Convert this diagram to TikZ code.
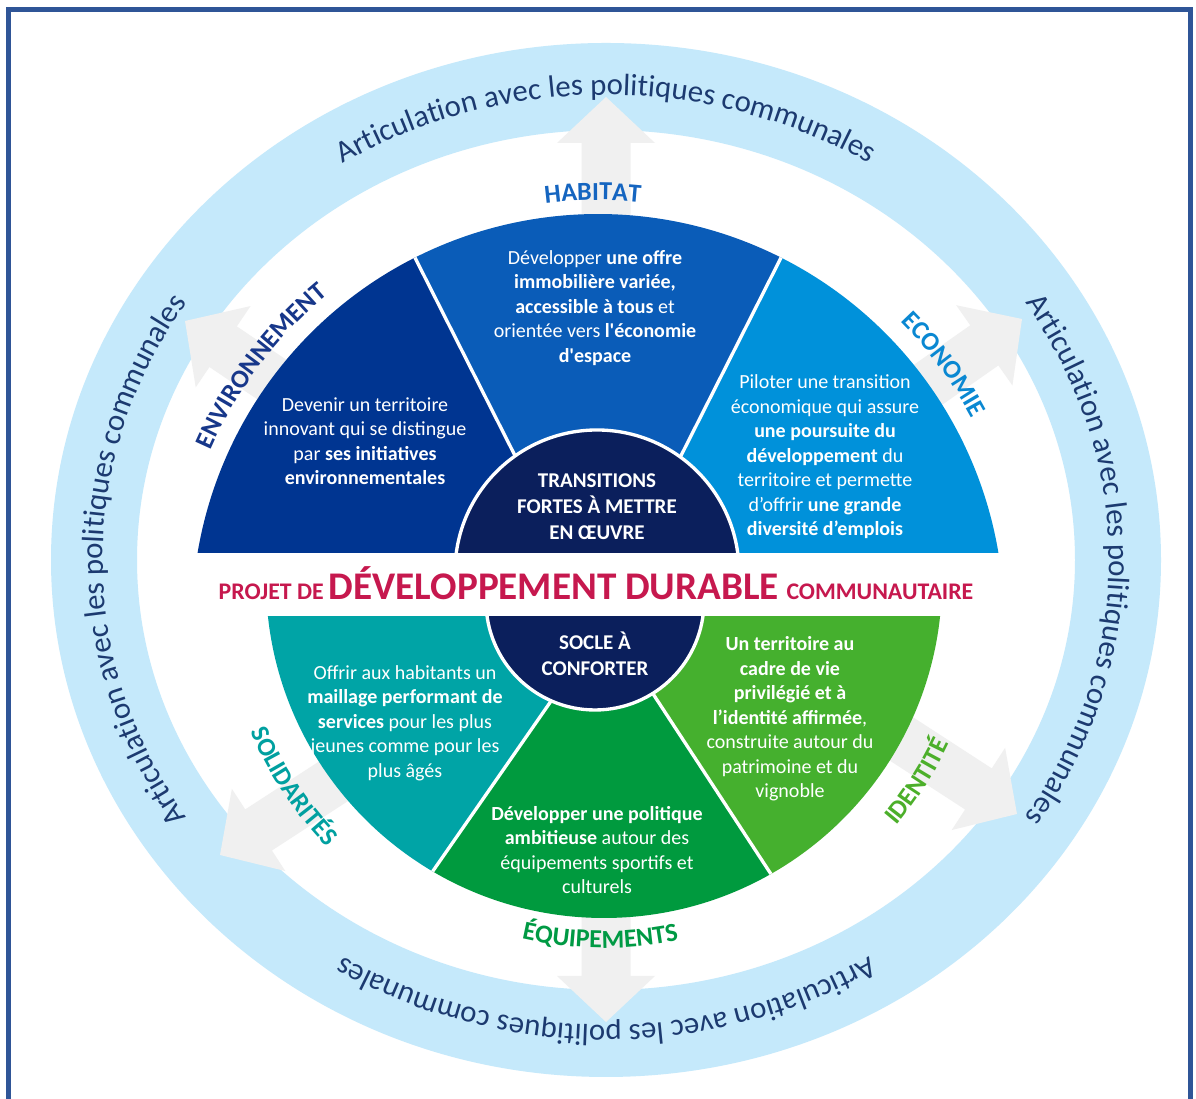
\documentclass[tikz,border=0pt]{standalone}
\usepackage{fontspec}
\setmainfont{Carlito}
\usetikzlibrary{decorations.text}
\definecolor{frameblue}{HTML}{2F5597}
\definecolor{ringblue}{HTML}{C5E9FB}
\definecolor{ringtext}{HTML}{1C3A70}
\definecolor{arrowgray}{HTML}{F0F0F0}
\definecolor{envblue}{HTML}{003591}
\definecolor{habblue}{HTML}{0A5CB8}
\definecolor{ecoblue}{HTML}{0091DA}
\definecolor{navy}{HTML}{0B1F5C}
\definecolor{solteal}{HTML}{00A4A6}
\definecolor{eqgreen}{HTML}{009A3E}
\definecolor{idgreen}{HTML}{45B02E}
\definecolor{titlered}{HTML}{C6184E}
\definecolor{envlabel}{HTML}{17378A}
\definecolor{hablabel}{HTML}{1565C0}
\definecolor{ecolabel}{HTML}{0A88D2}
\definecolor{sollabel}{HTML}{00A0A0}
\definecolor{eqlabel}{HTML}{009A44}
\definecolor{idlabel}{HTML}{4CAF2A}
\newcommand\lblfont{\bfseries\fontsize{15.6}{16}\selectfont}
\newcommand\ringfont{\fontsize{18.5}{20}\selectfont}
\newcommand\arclabel[7]{\path[decorate,decoration={text along path,text align=center,text color=#6,text={|\lblfont|#7}}] (#1,#2) ++(#4:#3) arc[start angle=#4,end angle=#5,radius=#3];}
\newcommand\ringlabel[2]{\path[decorate,decoration={text along path,text align=center,text color=ringtext,text={|\ringfont|Articulation avec les politiques communales}}] (606,539) ++(#1:503 and 465) arc[start angle=#1,end angle=#2,x radius=503,y radius=465];}
\newcommand\bigarrow[3]{\fill[arrowgray,shift={(#1,#2)},rotate=#3] (0,0) -- (-46,49) -- (-46,24.5) -- (-170,24.5) -- (-170,-24.5) -- (-46,-24.5) -- (-46,-49) -- cycle;}
\newcommand\sq{\textquotesingle}
\tikzset{
  sectxt/.style={align=center,text=white,inner sep=0pt,font=\fontsize{12}{14.7}\selectfont},
  centtxt/.style={align=center,text=white,inner sep=0pt,font=\bfseries\fontsize{12.6}{15.6}\selectfont},
  divider/.style={white,line width=2pt}
}
\begin{document}
\begin{tikzpicture}[x=0.6pt,y=0.6pt]
\useasboundingbox (0,0) rectangle (1196,1099);
\fill[white] (0,0) rectangle (1196,1099);
\draw[frameblue,line width=3pt] (8,-20) -- (8,1089) -- (1190,1089) -- (1190,-20);
% ring
\fill[ringblue,even odd rule] (606,539) ellipse [x radius=555,y radius=517] (606,539) ellipse [x radius=469,y radius=430];
% arrows
\bigarrow{606}{1002}{90}
\bigarrow{185}{778}{146}
\bigarrow{1022}{780}{35}
\bigarrow{220}{244}{213}
\bigarrow{606}{77}{270}
\bigarrow{1017}{285}{-33}
% ring texts
\ringlabel{160}{20}
\ringlabel{70}{-70}
\ringlabel{-20}{-160}
\ringlabel{250}{110}
% top pie
\begin{scope}
  \clip (0,546) rectangle (1196,1099);
  \fill[ecoblue] (598,479) -- ++(0:406) arc[start angle=0,end angle=63.2,radius=406] -- cycle;
  \fill[habblue] (598,479) -- ++(63.2:406) arc[start angle=63.2,end angle=116.8,radius=406] -- cycle;
  \fill[envblue] (598,479) -- ++(116.8:406) arc[start angle=116.8,end angle=180,radius=406] -- cycle;
  \draw[divider] (598,479) -- ++(63.2:406) (598,479) -- ++(116.8:406);
  \fill[navy] (597,527) circle (142);
  \draw[white,line width=2pt] (597,527) circle (142);
\end{scope}
% bottom pie
\begin{scope}
  \clip (0,0) rectangle (1196,482);
  \begin{scope}
    \clip (606,477) -- ++(235.2:900) -- ++(0,900) -- cycle;
    \fill[solteal] (604,519) circle (338);
  \end{scope}
  \begin{scope}
    \clip (606,477) -- ++(235.2:900) -- ++(0:2000) -- cycle;
    \clip (606,477) -- ++(303.2:900) -- ++(180:2000) -- cycle;
    \fill[eqgreen] (604,519) circle (338);
  \end{scope}
  \begin{scope}
    \clip (606,477) -- ++(303.2:900) -- ++(0,900) -- cycle;
    \fill[idgreen] (604,519) circle (338);
  \end{scope}
  \begin{scope}
    \clip (604,519) circle (338);
    \draw[divider] (606,477) -- ++(235.2:420) (606,477) -- ++(303.2:420);
  \end{scope}
  \fill[navy] (595,498) circle (109);
  \draw[white,line width=2pt] (595,498) circle (109);
\end{scope}
% category labels
\arclabel{598}{479}{420}{120.7}{60.7}{hablabel}{HABITAT}
\arclabel{598}{479}{423}{173}{113}{envlabel}{ENVIRONNEMENT}
\arclabel{598}{479}{425}{66.5}{6.5}{ecolabel}{ECONOMIE}
\arclabel{604}{519}{385}{183.6}{243.6}{sollabel}{SOLIDARITÉS}
\arclabel{604}{519}{368}{239.4}{299.4}{eqlabel}{ÉQUIPEMENTS}
\arclabel{604}{519}{382}{297.3}{357.3}{idlabel}{IDENTITÉ}
% title
\node[anchor=base,text=titlered,font=\bfseries,inner sep=0pt] (title) at (596,499)
  {{\fontsize{14.3}{15}\selectfont PROJET DE}\hspace{3pt}{\fontsize{23.5}{25}\selectfont DÉVELOPPEMENT DURABLE}\hspace{4.5pt}{\fontsize{14.3}{15}\selectfont COMMUNAUTAIRE}};
% sector texts
\node[sectxt] (envtxt) at (365,658) {Devenir un territoire\\innovant qui se distingue\\par \textbf{ses initiatives}\\\textbf{environnementales}};
\node[sectxt] (habtxt) at (595,791) {Développer \textbf{une offre}\\\textbf{immobilière variée,}\\\textbf{accessible à tous} et\\orientée vers \textbf{l\sq économie}\\\textbf{d\sq espace}};
\node[sectxt] (ecotxt) at (825,642) {Piloter une transition\\économique qui assure\\\textbf{une poursuite du}\\\textbf{développement} du\\territoire et permette\\d’offrir \textbf{une grande}\\\textbf{diversité d’emplois}};
\node[sectxt] (soltxt) at (405,376) {Offrir aux habitants un\\\textbf{maillage performant de}\\\textbf{services} pour les plus\\jeunes comme pour les\\plus âgés};
\node[sectxt] (eqtxt) at (597,249) {\textbf{Développer une politique}\\\textbf{ambitieuse} autour des\\équipements sportifs et\\culturels};
\node[sectxt] (idtxt) at (790,380) {\textbf{Un territoire au}\\\textbf{cadre de vie}\\\textbf{privilégié et à}\\\textbf{l’identité affirmée},\\construite autour du\\patrimoine et du\\vignoble};
\node[centtxt] (transit) at (597,592) {TRANSITIONS\\FORTES À METTRE\\EN ŒUVRE};
\node[centtxt] (socle) at (595,445) {SOCLE À\\CONFORTER};
\end{tikzpicture}
\end{document}
